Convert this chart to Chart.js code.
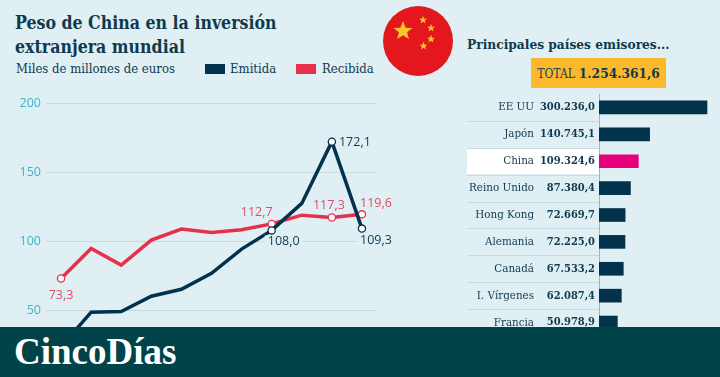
<!DOCTYPE html>
<html>
<head>
<meta charset="utf-8">
<script src="https://cdn.jsdelivr.net/npm/chart.js@4"></script>
<style>
  html, body { margin: 0; padding: 0; }
  body { width: 720px; height: 377px; overflow: hidden; position: relative; background: #dfeff4; color: #0f3a4e; }
  div, svg, canvas { position: absolute; }
  .serif { font-family: "DejaVu Serif Condensed", "DejaVu Serif", serif; white-space: nowrap; }
  #title { left: 15px; top: 11px; font-size: 17.6px; line-height: 23.5px; font-weight: bold; }
  #sub { left: 16px; top: 61px; font-size: 13px; line-height: 16px; }
  .swatch { width: 20px; height: 10px; top: 64px; }
  .leg { top: 61px; font-size: 13px; line-height: 16px; }
  #head2 { left: 467px; top: 35px; font-size: 13.6px; line-height: 18px; font-weight: bold; }
  #total { left: 531px; top: 58px; width: 135px; height: 30px; background: #fbb92b; text-align: center; line-height: 31px; font-size: 13.6px; font-weight: bold; }
  #total span { font-size: 12px; font-weight: normal; margin-right: 4px; }
  #footer { left: 0; top: 327px; width: 720px; height: 50px; background: #00444a; }
  #logo { left: 14px; top: 3px; font-size: 37px; line-height: 44px; font-weight: bold; color: #fff; font-family: "Liberation Serif", serif; }
</style>
</head>
<body>
<div id="title" class="serif">Peso de China en la inversión<br>extranjera mundial</div>
<div id="sub" class="serif">Miles de millones de euros</div>
<div class="swatch" style="left:205px;background:#03324d"></div>
<div id="legA" class="leg serif" style="left:230px"></div>
<div class="swatch" style="left:296px;background:#e7304c"></div>
<div id="legB" class="leg serif" style="left:322px"></div>

<svg style="left:383px;top:6px" width="70" height="70" viewBox="0 0 70 70">
  <defs>
    <polygon id="s" points="0,-10 2.6,-3.2 9.5,-3.1 4.1,1.2 5.9,8.1 0,4.2 -5.9,8.1 -4.1,1.2 -9.5,-3.1 -2.6,-3.2"/>
  </defs>
  <circle cx="35" cy="35" r="35" fill="#e3171d"/>
  <g fill="#fbc52b">
    <use href="#s" transform="translate(20,25)"/>
    <use href="#s" transform="translate(40,14) scale(0.42)"/>
    <use href="#s" transform="translate(48,22) scale(0.42)"/>
    <use href="#s" transform="translate(48,33) scale(0.42)"/>
    <use href="#s" transform="translate(40.5,40) scale(0.42)"/>
  </g>
</svg>

<div id="head2" class="serif">Principales países emisores...</div>
<div id="total" class="serif"><span>TOTAL</span><b id="totalVal"></b></div>

<canvas id="lineChart" style="left:0;top:90px" width="410" height="300"></canvas>
<canvas id="barChart" style="left:467px;top:94px" width="253" height="242"></canvas>

<div id="footer"><div id="logo">CincoDías</div></div>

<script>
const years = ['2007', '2008', '2009', '2010', '2011', '2012', '2013', '2014', '2015', '2016', '2017'];
const emitida = [24, 49, 49.5, 60.5, 65.5, 77, 94.5, 108.0, 127.5, 172.1, 109.3];
const recibida = [73.3, 95, 83, 101, 109, 106.5, 108.5, 112.7, 119, 117.3, 119.6];
const yTicks = [50, 100, 150, 200];
const emitidaMarked = [7, 9, 10];
const recibidaMarked = [0, 7, 9, 10];

const paises = ['EE UU', 'Japón', 'China', 'Reino Unido', 'Hong Kong', 'Alemania', 'Canadá', 'I. Vírgenes', 'Francia'];
const inversion = [300236.0, 140745.1, 109324.6, 87380.4, 72669.7, 72225.0, 67533.2, 62087.4, 50978.9];
const total = 1254361.6;

const NAVY = '#03324d', RED = '#e7304c', PINK = '#e6007e', GRID = '#c6dae1', TEAL = '#3fb3c4', INK = '#0f3a4e';
const SERIF = '"DejaVu Serif Condensed", "DejaVu Serif", serif';

const fmt1 = v => v.toFixed(1).replace('.', ',');
const fmtMiles = v => {
  const p = v.toFixed(1).split('.');
  return p[0].replace(/\B(?=(\d{3})+$)/g, '.') + ',' + p[1];
};

document.getElementById('legA').textContent = 'Emitida';
document.getElementById('legB').textContent = 'Recibida';
document.getElementById('totalVal').textContent = fmtMiles(total);

// labels next to the marked points: dataset, index, offset from the point, gap in the grid
const lineLabels = [
  [1, 0, 0, 17, false],
  [1, 7, -15, -11, false],
  [1, 9, -3, -12, false],
  [1, 10, 14, -11, false],
  [0, 7, 12, 11, true],
  [0, 9, 23, 1, false],
  [0, 10, 14, 12, true]
];

const lineLabelPlugin = {
  id: 'lineLabels',
  afterDatasetsDraw(chart) {
    const ctx = chart.ctx;
    ctx.save();
    ctx.font = '12.5px "Open Sans", sans-serif';
    ctx.textBaseline = 'middle';
    ctx.textAlign = 'center';
    lineLabels.forEach(([ds, i, dx, dy, bg]) => {
      const pt = chart.getDatasetMeta(ds).data[i];
      const txt = fmt1(chart.data.datasets[ds].data[i]);
      const w = ctx.measureText(txt).width;
      if (bg) {
        ctx.fillStyle = '#dfeff4';
        ctx.fillRect(pt.x + dx - w / 2 - 3, pt.y + dy - 6, w + 6, 12);
      }
      ctx.fillStyle = ds === 0 ? INK : '#df4c68';
      ctx.fillText(txt, pt.x + dx, pt.y + dy);
    });
    ctx.restore();
  }
};

new Chart(document.getElementById('lineChart'), {
  type: 'line',
  data: {
    labels: years,
    datasets: [
      {
        label: 'Emitida', data: emitida, borderColor: NAVY, borderWidth: 3.5, tension: 0,
        order: 1,
        pointBackgroundColor: '#fff', pointBorderColor: NAVY, pointBorderWidth: 1.3,
        pointRadius: c => emitidaMarked.includes(c.dataIndex) ? 3.6 : 0
      },
      {
        label: 'Recibida', data: recibida, borderColor: RED, borderWidth: 3.5, tension: 0,
        order: 2,
        pointBackgroundColor: '#fff', pointBorderColor: RED, pointBorderWidth: 1.3,
        pointRadius: c => recibidaMarked.includes(c.dataIndex) ? 3.6 : 0
      }
    ]
  },
  options: {
    responsive: false,
    animation: false,
    layout: { padding: { top: 13, bottom: 10, right: 33 } },
    plugins: { legend: { display: false }, tooltip: { enabled: false } },
    scales: {
      x: { display: false, offset: true },
      y: {
        min: 0, max: 200,
        afterFit: s => { s.width = 46; s.paddingTop = 0; s.paddingBottom = 0; },
        afterBuildTicks: s => { s.ticks = yTicks.map(v => ({ value: v })); },
        border: { display: false },
        grid: { color: GRID, lineWidth: 1, drawTicks: false },
        ticks: { color: TEAL, padding: 5, font: { family: '"Open Sans", sans-serif', size: 12.5 } }
      }
    }
  },
  plugins: [lineLabelPlugin]
});

const barRowsPlugin = {
  id: 'barRows',
  // runs before the axis labels, so the white China row stays behind them
  beforeDraw(chart) {
    const ctx = chart.ctx, y = chart.scales.y, a = chart.chartArea;
    const band = (y.getPixelForValue(1) - y.getPixelForValue(0));
    ctx.save();
    paises.forEach((p, i) => {
      const top = y.getPixelForValue(i) - band / 2;
      if (p === 'China') {
        ctx.fillStyle = '#fff';
        ctx.fillRect(0, top + 0.5, a.left, band - 1);
      }
      if (i > 0) {
        ctx.fillStyle = GRID;
        ctx.fillRect(0, Math.round(top), a.left, 1);
      }
    });
    ctx.restore();
  },
  afterDatasetsDraw(chart) {
    const ctx = chart.ctx, y = chart.scales.y, a = chart.chartArea;
    ctx.save();
    ctx.font = 'bold 11px ' + SERIF;
    ctx.fillStyle = INK;
    ctx.textAlign = 'right';
    ctx.textBaseline = 'middle';
    inversion.forEach((v, i) => ctx.fillText(fmtMiles(v), a.left - 4, y.getPixelForValue(i)));
    ctx.restore();
  }
};

new Chart(document.getElementById('barChart'), {
  type: 'bar',
  data: {
    labels: paises,
    datasets: [{
      data: inversion,
      backgroundColor: paises.map(p => p === 'China' ? PINK : NAVY),
      barThickness: 13
    }]
  },
  options: {
    indexAxis: 'y',
    responsive: false,
    animation: false,
    plugins: { legend: { display: false }, tooltip: { enabled: false } },
    scales: {
      x: { display: false, min: 0, max: 336400 },
      y: {
        afterFit: s => { s.width = 132; s.paddingTop = 0; s.paddingBottom = 0; },
        border: { display: true, color: '#9fb6c0', width: 1 },
        grid: { display: false },
        ticks: { color: INK, padding: 57, font: { family: SERIF, size: 11.5 } }
      }
    }
  },
  plugins: [barRowsPlugin]
});
</script>
</body>
</html>
